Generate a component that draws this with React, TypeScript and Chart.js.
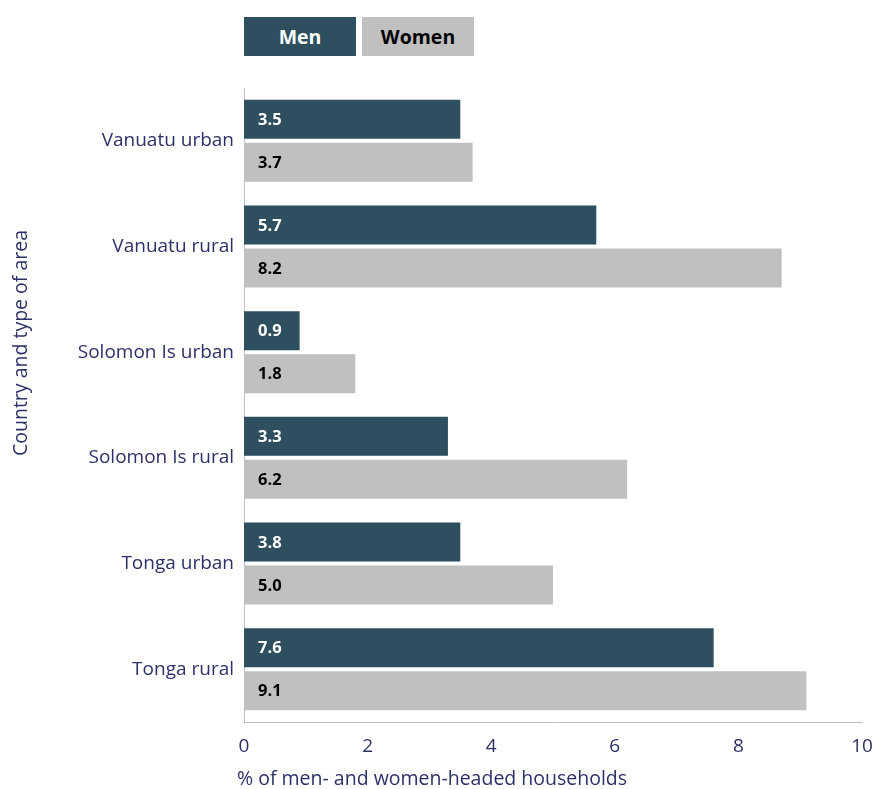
import React, { useEffect, useRef } from "react";
import { Chart, registerables } from "chart.js";

Chart.register(...registerables);

const categories = ["Vanuatu urban", "Vanuatu rural", "Solomon Is urban", "Solomon Is rural", "Tonga urban", "Tonga rural"];
const menValues = [3.5, 5.7, 0.9, 3.3, 3.5, 7.6];
const womenValues = [3.7, 8.7, 1.8, 6.2, 5.0, 9.1];
const menLabels = ["3.5", "5.7", "0.9", "3.3", "3.8", "7.6"];
const womenLabels = ["3.7", "8.2", "1.8", "6.2", "5.0", "9.1"];
const xTicks = [0, 2, 4, 6, 8, 10];
const yTitle = "Country and type of area";
const xTitle = "% of men- and women-headed households";

const MEN = "#2E4F5F";
const WOMEN = "#BFC0BF";
const NAVY = "#2E3068";
const FONT = "'Open Sans', Lato, sans-serif";

const labelPlugin = {
  id: "barLabels",
  afterDatasetsDraw(chart: any) {
    const ctx = chart.ctx;
    const sets = [menLabels, womenLabels];
    const colors = ["#ffffff", "#000000"];
    ctx.save();
    ctx.font = `bold 16.5px ${FONT}`;
    ctx.textBaseline = "middle";
    ctx.textAlign = "left";
    chart.data.datasets.forEach((_: any, di: number) => {
      const meta = chart.getDatasetMeta(di);
      meta.data.forEach((bar: any, i: number) => {
        ctx.fillStyle = colors[di];
        ctx.fillText(sets[di][i], chart.chartArea.left + 14, bar.y + 1);
      });
    });
    ctx.restore();
  },
};

const titlePlugin = {
  id: "axisTitles",
  afterDraw(chart: any) {
    const ctx = chart.ctx;
    ctx.save();
    ctx.font = `19.5px ${FONT}`;
    ctx.fillStyle = NAVY;
    ctx.textBaseline = "middle";
    ctx.textAlign = "left";
    ctx.fillText(xTitle, chart.chartArea.left - 7, 779);
    ctx.translate(21, 343);
    ctx.rotate(-Math.PI / 2);
    ctx.textAlign = "center";
    ctx.fillText(yTitle, 0, 0);
    ctx.restore();
  },
};

export default function App() {
  const ref = useRef<HTMLCanvasElement | null>(null);
  useEffect(() => {
    document.body.style.margin = "0";
    const chart = new Chart(ref.current as HTMLCanvasElement, {
      type: "bar",
      data: {
        labels: categories,
        datasets: [
          { label: "Men", data: menValues, backgroundColor: MEN, barPercentage: 0.907, categoryPercentage: 0.814 },
          { label: "Women", data: womenValues, backgroundColor: WOMEN, barPercentage: 0.907, categoryPercentage: 0.814 },
        ],
      },
      options: {
        indexAxis: "y",
        animation: false,
        responsive: false,
        layout: { padding: { top: 88, right: 0, left: 0, bottom: 0 } },
        plugins: { legend: { display: false }, tooltip: { enabled: false } },
        scales: {
          x: {
            min: 0,
            max: 10,
            afterBuildTicks: (s: any) => {
              s.ticks = xTicks.map((v) => ({ value: v }));
            },
            grid: { display: false, drawTicks: false },
            border: { display: true, color: "#BFBFBF", width: 1 },
            ticks: { color: NAVY, font: { family: FONT, size: 19 }, padding: 13 },
            afterFit: (s: any) => {
              s.height = 67;
              s.paddingRight = 14;
              s.paddingLeft = 0;
            },
          },
          y: {
            grid: { display: false, drawTicks: false },
            border: { display: true, color: "#BFBFBF", width: 1 },
            ticks: { color: NAVY, font: { family: FONT, size: 19 }, padding: 10 },
            afterFit: (s: any) => {
              s.width = 244;
              s.paddingTop = 0;
              s.paddingBottom = 0;
            },
          },
        },
      },
      plugins: [labelPlugin, titlePlugin],
    } as any);
    return () => chart.destroy();
  }, []);

  const box = (bg: string, color: string, left: number, text: string) => (
    <div
      style={{
        position: "absolute",
        left,
        top: 17,
        width: 112,
        height: 39,
        background: bg,
        color,
        fontFamily: FONT,
        fontWeight: 700,
        fontSize: 19.5,
        display: "flex",
        alignItems: "center",
        justifyContent: "center",
      }}
    >
      {text}
    </div>
  );

  return (
    <div style={{ position: "relative", width: 876, height: 789, background: "#fff" }}>
      <canvas ref={ref} width={876} height={789} style={{ display: "block" }} />
      {box(MEN, "#ffffff", 244, "Men")}
      {box(WOMEN, "#000000", 362, "Women")}
    </div>
  );
}
